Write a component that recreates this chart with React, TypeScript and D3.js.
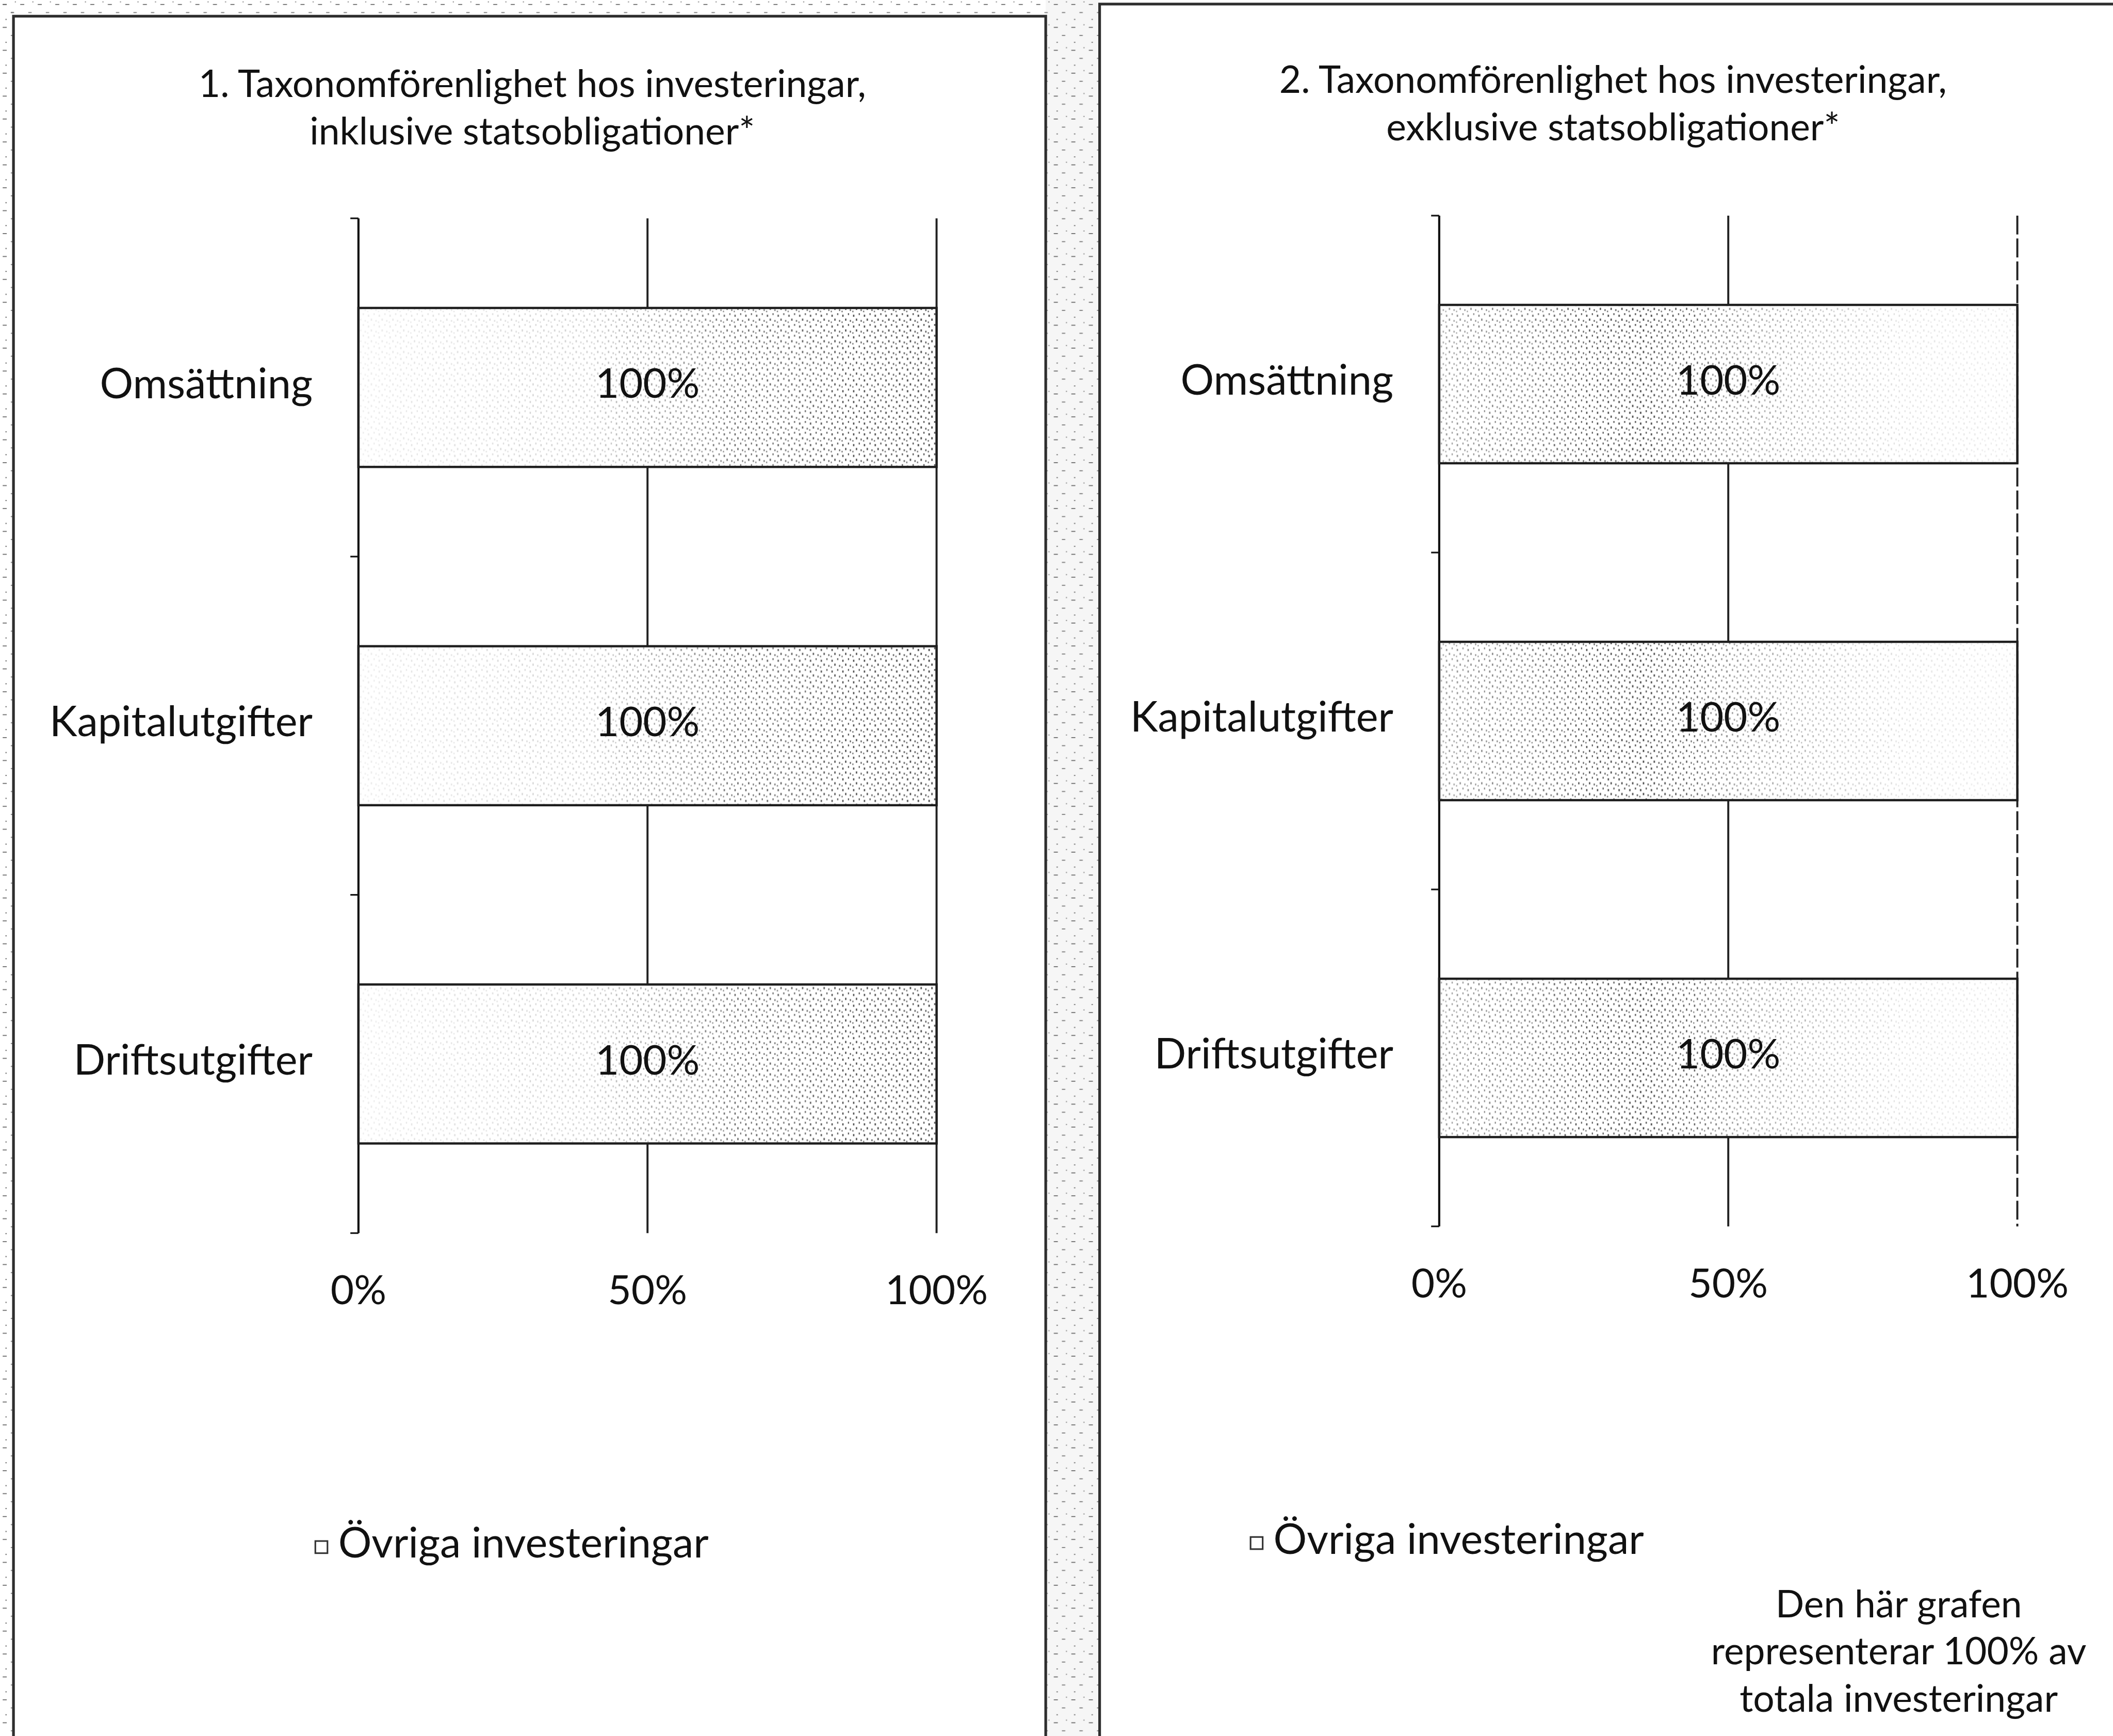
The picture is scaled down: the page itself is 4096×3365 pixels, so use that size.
import React from 'react'
import * as d3 from 'd3'

const categories = ['Omsättning', 'Kapitalutgifter', 'Driftsutgifter']
const valuesIncl = [100, 100, 100]
const valuesExcl = [100, 100, 100]
const tickValues = [0, 50, 100]
const titleIncl = ['1. Taxonomförenlighet hos investeringar,', 'inklusive statsobligationer*']
const titleExcl = ['2. Taxonomförenlighet hos investeringar,', 'exklusive statsobligationer*']
const legendLabel = 'Övriga investeringar'
const noteLines = ['Den här grafen', 'representerar 100% av', 'totala investeringar']

const W = 4096, H = 3365
// layout measured on the 1568 px preview, scaled up to the window
const K = W / 1568
const s = (v: number) => v * K
const FONT = 'Lato, "Open Sans", sans-serif'
const INK = '#111'

// scan-like stipple: where the fill gets denser
const shadeIncl = [[0, 0.1], [0.4, 0.25], [0.65, 0.75], [1, 1]]
const shadeExcl = [[0, 0.5], [0.35, 1], [0.55, 0.5], [0.8, 0.15], [1, 0.1]]

function Panel({id, values, title, plot, titleX, titleY, legend, shade}: any) {
  const x = d3.scaleLinear().domain([0, 100]).range([s(plot.x0), s(plot.x1)])
  const y = d3.scaleBand().domain(categories).range([s(plot.y0), s(plot.y1)])
    .paddingInner(0.53).paddingOuter(0.265)
  const step = y.step()
  const boundaries = d3.range(categories.length + 1).map(i => s(plot.y0) + i * step)

  return (
    <g>
      <defs>
        <linearGradient id={id + '-grad'} x1="0" x2="1" y1="0" y2="0">
          {shade.map((d: number[], i: number) =>
            <stop key={i} offset={d[0]} stopColor="#fff" stopOpacity={d[1]} />)}
        </linearGradient>
        <mask id={id + '-mask'} maskUnits="userSpaceOnUse" x={0} y={0} width={W} height={H}>
          <rect x={x(0)} y={s(plot.y0)} width={x(100) - x(0)} height={s(plot.y1 - plot.y0)}
            fill={`url(#${id}-grad)`} />
        </mask>
      </defs>

      {/* title */}
      {title.map((t: string, i: number) =>
        <text key={i} x={s(titleX)} y={s(titleY + i * 35)} textAnchor="middle"
          dominantBaseline="middle" fontFamily={FONT} fontSize={s(28)} fill={INK}>{t}</text>)}

      {/* gridlines */}
      {tickValues.filter(t => t > 0).map(t =>
        <line key={t} x1={x(t)} x2={x(t)} y1={s(plot.y0)} y2={s(plot.y1)}
          stroke="#222" strokeWidth={s(1.5)}
          strokeDasharray={id === 'excl' && t === 100 ? `${s(14)} ${s(3)}` : undefined} />)}

      {/* axis */}
      <line x1={x(0)} x2={x(0)} y1={s(plot.y0)} y2={s(plot.y1)} stroke={INK} strokeWidth={s(1.6)} />
      {boundaries.map((b, i) =>
        <line key={i} x1={x(0) - s(6)} x2={x(0)} y1={b} y2={b} stroke={INK} strokeWidth={s(1.2)} />)}

      {/* bars */}
      {categories.map((c, i) => (
        <g key={c}>
          <rect x={x(0)} y={y(c)} width={x(values[i]) - x(0)} height={y.bandwidth()}
            fill="#fff" />
          <rect x={x(0)} y={y(c)} width={x(values[i]) - x(0)} height={y.bandwidth()}
            fill="url(#stipple)" mask={`url(#${id}-mask)`} />
          <rect x={x(0)} y={y(c)} width={x(values[i]) - x(0)} height={y.bandwidth()}
            fill="none" stroke="#1e1e1e" strokeWidth={s(1.7)} />
          <text x={x(values[i] / 2)} y={y(c)! + y.bandwidth() / 2} textAnchor="middle"
            dominantBaseline="middle" fontFamily={FONT} fontSize={s(30.5)} fill={INK}>
            {values[i] + '%'}
          </text>
          <text x={x(0) - s(34)} y={y(c)! + y.bandwidth() / 2} textAnchor="end"
            dominantBaseline="middle" fontFamily={FONT} fontSize={s(31)} fill={INK}>{c}</text>
        </g>
      ))}

      {/* x tick labels */}
      {tickValues.map(t =>
        <text key={t} x={x(t)} y={s(plot.y1 + 45)} textAnchor="middle" dominantBaseline="middle"
          fontFamily={FONT} fontSize={s(30)} fill={INK}>{t + '%'}</text>)}

      {/* legend */}
      <rect x={s(legend.x)} y={s(legend.y - 4.5)} width={s(9)} height={s(9)}
        fill="#fff" stroke="#333" strokeWidth={s(1.2)} />
      <text x={s(legend.x + 17)} y={s(legend.y)} dominantBaseline="middle"
        fontFamily={FONT} fontSize={s(31)} fill={INK}>{legendLabel}</text>
    </g>
  )
}

export default function App() {
  return (
    <svg width={W} height={H} style={{position: 'fixed', left: 0, top: 0, background: '#fff'}}>
      <defs>
        <pattern id="stipple" patternUnits="userSpaceOnUse" width={s(8)} height={s(8)}>
          <rect x={s(1)} y={s(1.5)} width={s(1)} height={s(1.6)} fill="#3a3a3a" />
          <rect x={s(5.2)} y={s(0.4)} width={s(0.9)} height={s(1.4)} fill="#4a4a4a" />
          <rect x={s(3.1)} y={s(4.4)} width={s(1)} height={s(1.6)} fill="#3a3a3a" />
          <rect x={s(6.6)} y={s(5.4)} width={s(0.9)} height={s(1.4)} fill="#505050" />
          <rect x={s(0.5)} y={s(6.5)} width={s(0.8)} height={s(1.2)} fill="#5a5a5a" />
        </pattern>
        <pattern id="noise" patternUnits="userSpaceOnUse" width={s(13)} height={s(17)}>
          <rect x={s(2)} y={s(3)} width={s(3)} height={s(0.6)} fill="#555" />
          <rect x={s(8)} y={s(9)} width={s(2.5)} height={s(0.6)} fill="#666" />
          <rect x={s(4)} y={s(14)} width={s(1)} height={s(0.8)} fill="#777" />
          <rect x={s(11)} y={s(1)} width={s(0.8)} height={s(0.8)} fill="#888" />
        </pattern>
      </defs>

      {/* scanned gutter and edges */}
      <rect x={s(776)} y={0} width={s(40)} height={H} fill="#f6f6f6" />
      <rect x={s(776)} y={0} width={s(40)} height={H} fill="url(#noise)" />
      <rect x={0} y={0} width={s(776)} height={s(12)} fill="url(#noise)" />
      <rect x={0} y={0} width={s(10)} height={H} fill="url(#noise)" />

      {/* panel frames */}
      <path d={`M${s(10)},${H} V${s(12)} H${s(776)} V${H}`} fill="none" stroke="#2e2e2e"
        strokeWidth={s(2)} />
      <path d={`M${s(816)},${H} V${s(3)} H${W}`} fill="none" stroke="#2e2e2e"
        strokeWidth={s(2)} />

      <Panel id="incl" values={valuesIncl} title={titleIncl} titleX={395} titleY={65}
        plot={{x0: 266, x1: 695, y0: 162, y1: 915}} legend={{x: 234, y: 1148}} shade={shadeIncl} />
      <Panel id="excl" values={valuesExcl} title={titleExcl} titleX={1197} titleY={62}
        plot={{x0: 1068, x1: 1497, y0: 160, y1: 910}} legend={{x: 928, y: 1145}} shade={shadeExcl} />

      {noteLines.map((t, i) =>
        <text key={i} x={s(1409)} y={s(1193 + i * 35)} textAnchor="middle" dominantBaseline="middle"
          fontFamily={FONT} fontSize={s(28)} fill={INK}>{t}</text>)}
    </svg>
  )
}
